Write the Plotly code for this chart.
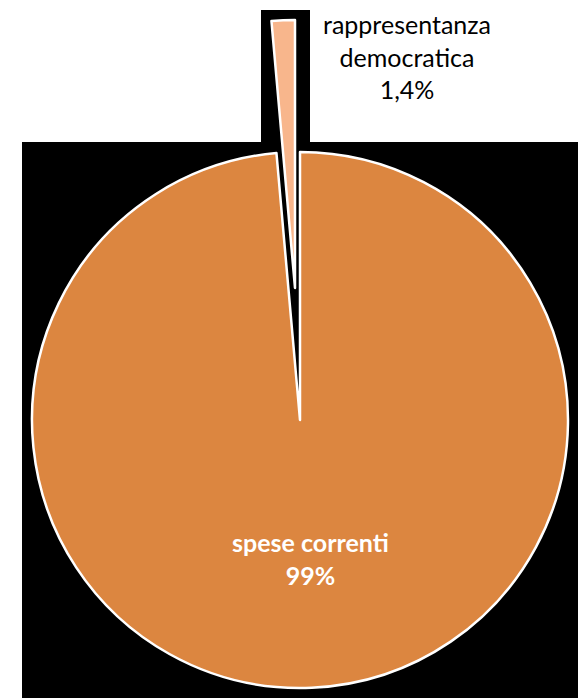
import plotly.graph_objects as go

# Data
labels = ['spese correnti', 'rappresentanza democratica']
values = [98.6, 1.4]
label_text = ['spese correnti', 'rappresentanza<br>democratica']
pct_text = ['99%', '1,4%']
colors = ['#DC8640', '#F8B68C']

# The page body keeps its default 8px margin, so the figure is offset
OFF = 8
W, H = 586 - OFF, 698 - OFF
CLEAR = 'rgba(0,0,0,0)'


def px_x(x):
    # page pixel -> paper fraction
    return (x - OFF) / W


def px_y(y):
    return 1 - (y - OFF) / H


fig = go.Figure()

# Main pie: the small slice left empty (it is drawn exploded below)
fig.add_trace(go.Pie(
    labels=labels,
    values=values,
    sort=False,
    direction='clockwise',
    rotation=0,
    marker=dict(colors=[colors[0], CLEAR],
                line=dict(color=['white', CLEAR], width=2.5)),
    textinfo='none',
    hoverinfo='label+percent',
    domain=dict(x=[px_x(32), px_x(568)], y=[px_y(688), px_y(152)]),
    showlegend=False,
))

# Exploded slice: same pie shifted outward, only the small slice visible
fig.add_trace(go.Pie(
    labels=labels,
    values=values,
    sort=False,
    direction='clockwise',
    rotation=0,
    marker=dict(colors=[CLEAR, colors[1]],
                line=dict(color=[CLEAR, 'white'], width=2.5)),
    textinfo='none',
    hoverinfo='label+percent',
    domain=dict(x=[px_x(27), px_x(563)], y=[px_y(556), px_y(20)]),
    showlegend=False,
))

# Slice labels
fig.add_annotation(
    text=f'<b>{label_text[0]}<br>{pct_text[0]}</b>',
    x=px_x(310), y=px_y(558), xref='paper', yref='paper',
    xanchor='center', yanchor='middle',
    showarrow=False, align='center',
    font=dict(family='Lato, Open Sans, sans-serif', size=25, color='white'),
)
fig.add_annotation(
    text=f'{label_text[1]}<br>{pct_text[1]}',
    x=px_x(407), y=px_y(57), xref='paper', yref='paper',
    xanchor='center', yanchor='middle',
    showarrow=False, align='center', borderpad=0,
    font=dict(family='Lato, Open Sans, sans-serif', size=25, color='black'),
)

# Black backdrop behind the pie (as in the original image)
fig.add_shape(type='rect', xref='paper', yref='paper', layer='below',
              x0=px_x(22), x1=px_x(583), y0=0, y1=px_y(142),
              fillcolor='black', line=dict(width=0))
fig.add_shape(type='rect', xref='paper', yref='paper', layer='below',
              x0=px_x(261), x1=px_x(310), y0=px_y(142), y1=px_y(10),
              fillcolor='black', line=dict(width=0))

fig.update_layout(
    width=W,
    height=H,
    margin=dict(l=0, r=0, t=0, b=0),
    paper_bgcolor='white',
    plot_bgcolor='white',
    separators=',.',
)

fig.write_html('out.html')
